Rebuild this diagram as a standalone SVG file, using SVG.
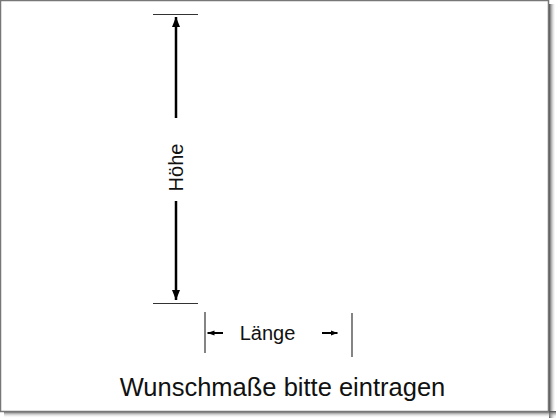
<svg xmlns="http://www.w3.org/2000/svg" width="560" height="420" viewBox="0 0 560 420">
<defs>
<linearGradient id="shR" x1="0" y1="0" x2="1" y2="0"><stop offset="0" stop-color="#444"/><stop offset="1" stop-color="#fff" stop-opacity="0"/></linearGradient>
<linearGradient id="shB" x1="0" y1="0" x2="0" y2="1"><stop offset="0" stop-color="#444"/><stop offset="1" stop-color="#fff" stop-opacity="0"/></linearGradient>
<marker id="big" viewBox="0 0 10 10" refX="10" refY="5" markerWidth="4" markerHeight="3.2" markerUnits="strokeWidth" orient="auto" preserveAspectRatio="none"><path d="M0,0 L10,5 L0,10 z" fill="#000"/></marker>
<marker id="small" viewBox="0 0 10 10" refX="10" refY="5" markerWidth="3.5" markerHeight="2.6" markerUnits="strokeWidth" orient="auto" preserveAspectRatio="none"><path d="M0,0 L10,5 L0,10 z" fill="#000"/></marker>
</defs>
<style>
.t{font-family:"Liberation Sans",Arial,sans-serif;fill:#111}
.tick{stroke:#333;stroke-width:1.2}
.main{stroke:#000;stroke-width:2.5;fill:none}
.sm{stroke:#000;stroke-width:2;fill:none}
</style>
<rect x="0" y="0" width="560" height="420" fill="#fff"/>
<rect x="549" y="4" width="7" height="414" fill="url(#shR)"/>
<rect x="4" y="411" width="552" height="7" fill="url(#shB)"/>
<rect x="0.5" y="0.5" width="548" height="411" fill="#fff" stroke="#777" stroke-width="1.5"/>
<g id="hoehe">
<line class="tick" x1="153" y1="14.5" x2="198" y2="14.5"/>
<line class="tick" x1="153" y1="303.5" x2="198" y2="303.5"/>
<g id="connectors-v">
<line class="main" x1="176" y1="118" x2="176" y2="17" marker-end="url(#big)"/>
<line class="main" x1="176" y1="201" x2="176" y2="300" marker-end="url(#big)"/>
</g>
<text class="t" font-size="20" text-anchor="middle" transform="translate(183,167.5) rotate(-90)">Höhe</text>
</g>
<g id="laenge">
<line class="tick" x1="205" y1="312" x2="205" y2="353"/>
<line class="tick" x1="352" y1="313" x2="352" y2="357"/>
<g id="connectors-h">
<line class="sm" x1="223" y1="333" x2="207.5" y2="333" marker-end="url(#small)"/>
<line class="sm" x1="322" y1="333" x2="337.5" y2="333" marker-end="url(#small)"/>
</g>
<text class="t" font-size="20" x="267.5" y="340" text-anchor="middle">Länge</text>
</g>
<g id="title">
<text class="t" font-size="25.5" x="282.5" y="396" text-anchor="middle" fill="#222">Wunschmaße bitte eintragen</text>
</g>
</svg>
